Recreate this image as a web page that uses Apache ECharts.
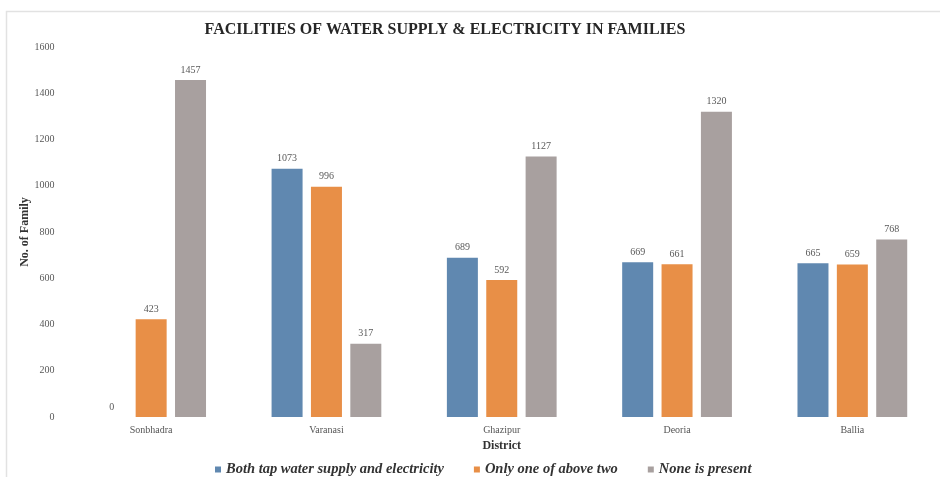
<!DOCTYPE html>
<html>
<head>
<meta charset="utf-8">
<script src="https://cdn.jsdelivr.net/npm/echarts@6/dist/echarts.min.js"></script>
<style>
  html, body { margin: 0; padding: 0; background: #fff; }
  #chart { width: 940px; height: 477px; }
</style>
</head>
<body>
<div id="chart"></div>
<script>
// districts on the x axis
var districts = ['Sonbhadra', 'Varanasi', 'Ghazipur', 'Deoria', 'Ballia']
// families per district
var bothFacilities = [0, 1073, 689, 669, 665]
var onlyOne = [423, 996, 592, 661, 659]
var nonePresent = [1457, 317, 1127, 1320, 768]
var yTicks = [0, 200, 400, 600, 800, 1000, 1200, 1400, 1600]

var serif = '"Liberation Serif", "DejaVu Serif", serif'

function barSeries(name, data, color) {
  return {
    name: name,
    type: 'bar',
    data: data,
    barWidth: 31,
    barGap: '27%',
    itemStyle: { color: color },
    label: {
      show: true,
      position: 'top',
      distance: 5,
      color: '#595959',
      fontFamily: serif,
      fontSize: 10
    }
  }
}

var chart = echarts.init(document.getElementById('chart'))
chart.setOption({
  animation: false,
  backgroundColor: '#fff',
  graphic: [
    {
      type: 'rect',
      shape: { x: 6.5, y: 11.5, width: 1000, height: 1000 },
      style: { fill: 'none', stroke: '#e2e2e2', lineWidth: 1.5 },
      silent: true
    }
  ],
  title: {
    text: 'FACILITIES OF WATER SUPPLY & ELECTRICITY IN FAMILIES',
    left: 440,
    textAlign: 'center',
    top: 17,
    textStyle: {
      fontFamily: serif,
      fontWeight: 'bold',
      fontSize: 16,
      color: '#262626'
    }
  },
  legend: {
    top: 457,
    left: 210,
    itemWidth: 6,
    itemHeight: 6,
    itemGap: 30,
    icon: 'rect',
    textStyle: {
      fontFamily: serif,
      fontStyle: 'italic',
      fontWeight: 'bold',
      fontSize: 14.5,
      color: '#333'
    },
    data: ['Both tap water supply and electricity', 'Only one of above two', 'None is present']
  },
  grid: {
    left: 63.5,
    width: 879,
    top: 47,
    bottom: 60
  },
  xAxis: {
    type: 'category',
    data: districts,
    name: 'District',
    nameLocation: 'middle',
    nameGap: 19,
    nameTextStyle: {
      fontFamily: serif,
      fontWeight: 'bold',
      fontSize: 12,
      color: '#333'
    },
    axisLine: { show: false },
    axisTick: { show: false },
    axisLabel: {
      fontFamily: serif,
      fontSize: 10,
      color: '#555',
      margin: 8
    }
  },
  yAxis: {
    type: 'value',
    min: yTicks[0],
    max: yTicks[yTicks.length - 1],
    interval: 200,
    name: 'No. of Family',
    nameLocation: 'middle',
    nameGap: 33,
    nameMoveOverlap: false,
    nameRotate: 90,
    nameTextStyle: {
      fontFamily: serif,
      fontWeight: 'bold',
      fontSize: 12,
      color: '#333'
    },
    axisLine: { show: false },
    axisTick: { show: false },
    splitLine: { show: false },
    axisLabel: {
      fontFamily: serif,
      fontSize: 10,
      color: '#595959',
      margin: 9,
      formatter: function (v) { return String(v) }
    }
  },
  series: [
    barSeries('Both tap water supply and electricity', bothFacilities, '#6088b0'),
    barSeries('Only one of above two', onlyOne, '#e88f47'),
    barSeries('None is present', nonePresent, '#a8a09f')
  ]
})
</script>
</body>
</html>
